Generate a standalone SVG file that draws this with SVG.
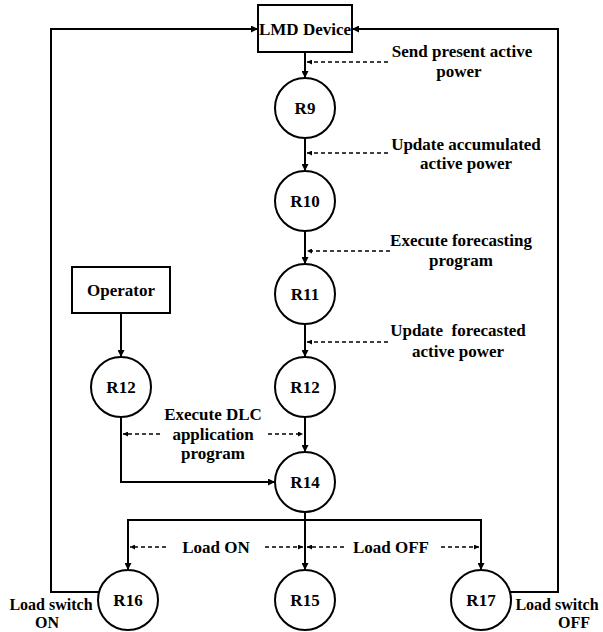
<svg xmlns="http://www.w3.org/2000/svg" width="603" height="632" viewBox="0 0 603 632">
<style>
.node{fill:#fff;stroke:#000;stroke-width:2}
.lbl{font-family:"Liberation Serif","Times New Roman",serif;font-weight:bold;font-size:17px;fill:#000;text-anchor:middle}
.sm{font-size:16px}
.ln{fill:none;stroke:#000;stroke-width:2}
.dl{fill:none;stroke:#000;stroke-width:1.6;stroke-dasharray:4 3}
</style>
<defs>
<marker id="ah" viewBox="0 0 10 10" refX="10" refY="5" markerWidth="9" markerHeight="7" markerUnits="userSpaceOnUse" orient="auto"><path d="M0,0 L10,5 L0,10 z" fill="#000"/></marker>
<marker id="ahd" viewBox="0 0 10 10" refX="10" refY="5" markerWidth="7" markerHeight="5" markerUnits="userSpaceOnUse" orient="auto"><path d="M0,0 L10,5 L0,10 z" fill="#000"/></marker>
</defs>
<rect width="603" height="632" fill="#fff"/>
<g id="connectors">
<path class="ln" d="M305,52 V78" marker-end="url(#ah)"/>
<path class="ln" d="M305,138 V171" marker-end="url(#ah)"/>
<path class="ln" d="M305,231 V264" marker-end="url(#ah)"/>
<path class="ln" d="M305,324 V357" marker-end="url(#ah)"/>
<path class="ln" d="M305,417 V452" marker-end="url(#ah)"/>
<path class="ln" d="M121,313 V357" marker-end="url(#ah)"/>
<path class="ln" d="M121,417 V482 H275" marker-end="url(#ah)"/>
<path class="ln" d="M305,512 V570" marker-end="url(#ah)"/>
<path class="ln" d="M128,570 V520 H481 V570" marker-end="url(#ah)"/>
<path class="ln" d="M128,520 V570" marker-end="url(#ah)"/>
<path class="ln" d="M99,592 H51 V29 H258" marker-end="url(#ah)"/>
<path class="ln" d="M510,592 H558 V29 H352" marker-end="url(#ah)"/>
<path class="dl" d="M388,62 H307" marker-end="url(#ahd)"/>
<path class="dl" d="M388,153 H307" marker-end="url(#ahd)"/>
<path class="dl" d="M390,251 H307" marker-end="url(#ahd)"/>
<path class="dl" d="M388,342 H307" marker-end="url(#ahd)"/>
<path class="dl" d="M160,434 H123" marker-end="url(#ahd)"/>
<path class="dl" d="M268,434 H303" marker-end="url(#ahd)"/>
<path class="dl" d="M166,547 H130" marker-end="url(#ahd)"/>
<path class="dl" d="M265,547 H303" marker-end="url(#ahd)"/>
<path class="dl" d="M344,547 H307" marker-end="url(#ahd)"/>
<path class="dl" d="M441,547 H479" marker-end="url(#ahd)"/>
</g>
<g id="lmd"><rect class="node" x="258" y="5" width="94" height="47"/><text class="lbl" x="305" y="35">LMD Device</text></g>
<g id="r9"><circle class="node" cx="305" cy="108" r="30"/><text class="lbl" x="305" y="114">R9</text></g>
<g id="r10"><circle class="node" cx="305" cy="201" r="30"/><text class="lbl" x="305" y="207">R10</text></g>
<g id="r11"><circle class="node" cx="305" cy="294" r="30"/><text class="lbl" x="305" y="300">R11</text></g>
<g id="r12b"><circle class="node" cx="305" cy="387" r="30"/><text class="lbl" x="305" y="393">R12</text></g>
<g id="operator"><rect class="node" x="72" y="267" width="98" height="46"/><text class="lbl" x="121" y="296">Operator</text></g>
<g id="r12a"><circle class="node" cx="121" cy="387" r="30"/><text class="lbl" x="121" y="393">R12</text></g>
<g id="r14"><circle class="node" cx="305" cy="482" r="30"/><text class="lbl" x="305" y="488">R14</text></g>
<g id="r16"><circle class="node" cx="128" cy="600" r="30"/><text class="lbl" x="128" y="606">R16</text></g>
<g id="r15"><circle class="node" cx="305" cy="600" r="30"/><text class="lbl" x="305" y="606">R15</text></g>
<g id="r17"><circle class="node" cx="481" cy="600" r="30"/><text class="lbl" x="481" y="606">R17</text></g>
<g id="labels">
<text class="lbl" x="462" y="57">Send present active</text>
<text class="lbl" x="459" y="77">power</text>
<text class="lbl" x="466" y="150">Update accumulated</text>
<text class="lbl" x="466" y="169">active power</text>
<text class="lbl" x="461" y="246">Execute forecasting</text>
<text class="lbl" x="461" y="266">program</text>
<text class="lbl" x="458" y="336" xml:space="preserve">Update  forecasted</text>
<text class="lbl" x="458" y="357">active power</text>
<text class="lbl" x="213" y="420">Execute DLC</text>
<text class="lbl" x="213" y="440">application</text>
<text class="lbl" x="213" y="459">program</text>
<text class="lbl" x="216" y="553">Load ON</text>
<text class="lbl" x="391" y="553">Load OFF</text>
<text class="lbl sm" x="51" y="610">Load switch</text>
<text class="lbl sm" x="47" y="628">ON</text>
<text class="lbl sm" x="557" y="610">Load switch</text>
<text class="lbl sm" x="574" y="628">OFF</text>
</g>
</svg>
